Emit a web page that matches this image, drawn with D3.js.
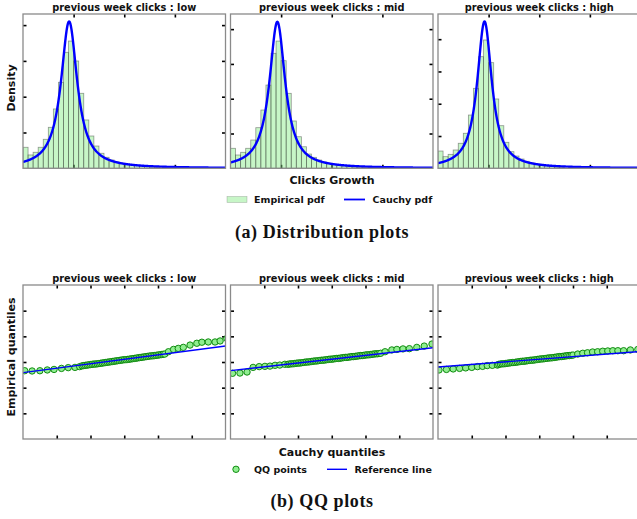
<!DOCTYPE html>
<html>
<head>
<meta charset="utf-8">
<script src="https://cdn.jsdelivr.net/npm/d3@7"></script>
<style>
body { margin: 0; background: #fff; }
text { font-family: "DejaVu Sans", sans-serif; font-weight: bold; fill: #111; }
.cap { font-family: "Liberation Serif", serif; letter-spacing: 0.6px; }
</style>
</head>
<body>
<div id="chart"></div>
<script>
// data
const groups = ["low", "mid", "high"];
const binStart = -1, binWidth = 0.1;
const histLow = [0.235, 0.149, 0.179, 0.235, 0.324, 0.458, 0.663, 0.961, 1.296, 1.422, 1.199, 0.838, 0.540, 0.361, 0.249, 0.168, 0.123, 0.093, 0.071, 0.056, 0.045, 0.037, 0.030, 0.022, 0.019, 0.015, 0.011, 0.008, 0.006];
const histMid = [0.230, 0.153, 0.184, 0.230, 0.325, 0.467, 0.670, 0.957, 1.322, 1.463, 1.237, 0.862, 0.544, 0.363, 0.248, 0.164, 0.126, 0.095, 0.072, 0.057, 0.045, 0.036, 0.029, 0.022, 0.017, 0.013, 0.009];
const histHigh = [0.214, 0.144, 0.173, 0.227, 0.310, 0.434, 0.660, 0.991, 1.383, 1.590, 1.309, 0.859, 0.528, 0.322, 0.206, 0.152, 0.115, 0.087, 0.066, 0.050, 0.039, 0.030, 0.022, 0.016, 0.011];
const cauchyLoc = [-0.089, -0.075, -0.081];
const cauchyScale = [0.194, 0.189, 0.175];
const densityMax = [1.724, 1.774, 1.912];
const densityTicks = [0.4, 0.8, 1.2, 1.6];
const growthDomain = [-1, 3];
const growthTicks = [0, 1, 2];

const qqLow = [[-2.95, -0.34], [-2.73, -0.35], [-2.50, -0.34], [-2.28, -0.31], [-2.08, -0.29], [-1.86, -0.25], [-1.66, -0.22], [-1.46, -0.21], [-1.32, -0.18],
  [-1.25, -0.15], [-1.20, -0.14], [-1.15, -0.13], [-1.10, -0.12], [-1.05, -0.11], [-1.00, -0.10], [-0.95, -0.09], [-0.90, -0.08], [-0.85, -0.08], [-0.80, -0.07],
  [-0.75, -0.06], [-0.70, -0.05], [-0.65, -0.04], [-0.60, -0.03], [-0.55, -0.02], [-0.50, -0.01], [-0.45, 0.00], [-0.40, 0.01], [-0.35, 0.02], [-0.30, 0.03],
  [-0.25, 0.04], [-0.20, 0.05], [-0.15, 0.06], [-0.10, 0.07], [-0.05, 0.08], [0.00, 0.09], [0.05, 0.09], [0.10, 0.10], [0.15, 0.11], [0.20, 0.12],
  [0.25, 0.13], [0.30, 0.14], [0.35, 0.15], [0.40, 0.16], [0.45, 0.17], [0.50, 0.18], [0.55, 0.19], [0.60, 0.20], [0.65, 0.21], [0.70, 0.22],
  [0.75, 0.23], [0.80, 0.24], [0.85, 0.24], [0.90, 0.25], [0.95, 0.26], [1.00, 0.27], [1.05, 0.28], [1.10, 0.29], [1.15, 0.30], [1.20, 0.31],
  [1.31, 0.40], [1.46, 0.49], [1.60, 0.53], [1.75, 0.57], [1.95, 0.66], [2.15, 0.73], [2.30, 0.77], [2.49, 0.78], [2.69, 0.78], [2.84, 0.82], [3.04, 0.92]];
const qqMid = [[-2.94, -0.44], [-2.72, -0.43], [-2.51, -0.39], [-2.33, -0.21], [-2.15, -0.18], [-1.98, -0.17], [-1.83, -0.16], [-1.68, -0.13], [-1.54, -0.12], [-1.39, -0.09],
  [-1.30, -0.09], [-1.25, -0.08], [-1.20, -0.07], [-1.15, -0.07], [-1.10, -0.06], [-1.05, -0.05], [-1.00, -0.04], [-0.95, -0.04], [-0.90, -0.03], [-0.85, -0.02],
  [-0.80, -0.01], [-0.75, 0.00], [-0.70, 0.00], [-0.65, 0.01], [-0.60, 0.02], [-0.55, 0.03], [-0.50, 0.04], [-0.45, 0.04], [-0.40, 0.05], [-0.35, 0.06],
  [-0.30, 0.07], [-0.25, 0.07], [-0.20, 0.08], [-0.15, 0.09], [-0.10, 0.10], [-0.05, 0.11], [0.00, 0.11], [0.05, 0.12], [0.10, 0.13], [0.15, 0.14],
  [0.20, 0.14], [0.25, 0.15], [0.30, 0.16], [0.35, 0.17], [0.40, 0.18], [0.45, 0.18], [0.50, 0.19], [0.55, 0.20], [0.60, 0.21], [0.65, 0.21],
  [0.70, 0.22], [0.75, 0.23], [0.80, 0.24], [0.85, 0.25], [0.90, 0.25], [0.95, 0.26], [1.00, 0.27], [1.05, 0.28], [1.10, 0.28], [1.15, 0.29],
  [1.20, 0.30], [1.25, 0.31], [1.30, 0.32], [1.35, 0.32], [1.40, 0.33], [1.45, 0.34],
  [1.58, 0.40], [1.78, 0.47], [1.93, 0.49], [2.11, 0.51], [2.30, 0.52], [2.52, 0.57], [2.74, 0.62], [2.97, 0.70]];
const qqHigh = [[-2.97, -0.31], [-2.75, -0.29], [-2.55, -0.27], [-2.36, -0.25], [-2.18, -0.23], [-2.00, -0.21], [-1.83, -0.18], [-1.68, -0.17], [-1.54, -0.14], [-1.39, -0.13], [-1.24, -0.12],
  [-1.20, -0.09], [-1.15, -0.08], [-1.10, -0.07], [-1.05, -0.07], [-1.00, -0.06], [-0.95, -0.05], [-0.90, -0.04], [-0.85, -0.03], [-0.80, -0.02], [-0.75, -0.02],
  [-0.70, -0.01], [-0.65, 0.00], [-0.60, 0.01], [-0.55, 0.02], [-0.50, 0.03], [-0.45, 0.03], [-0.40, 0.04], [-0.35, 0.05], [-0.30, 0.06], [-0.25, 0.07],
  [-0.20, 0.07], [-0.15, 0.08], [-0.10, 0.09], [-0.05, 0.10], [0.00, 0.11], [0.05, 0.12], [0.10, 0.12], [0.15, 0.13], [0.20, 0.14], [0.25, 0.15],
  [0.30, 0.16], [0.35, 0.16], [0.40, 0.17], [0.45, 0.18], [0.50, 0.19], [0.55, 0.20], [0.60, 0.21], [0.65, 0.21], [0.70, 0.22], [0.75, 0.23],
  [0.80, 0.24], [0.85, 0.25], [0.90, 0.25], [0.95, 0.26], [1.00, 0.27],
  [1.14, 0.31], [1.29, 0.34], [1.43, 0.36], [1.58, 0.39], [1.73, 0.40], [1.88, 0.42], [2.03, 0.43], [2.18, 0.44], [2.33, 0.44], [2.50, 0.44], [2.70, 0.47], [2.92, 0.49]];
const refSlope = [0.173, 0.149, 0.101];
const refIntercept = [0.103, 0.109, 0.108];
const quantileDomain = [-3, 3];
const quantileTicks = [-2, -1, 0, 1, 2];

const hists = [histLow, histMid, histHigh];
const qqs = [qqLow, qqMid, qqHigh];

const width = 637, height = 519;
const panelLeft = [23, 230.5, 438];
const panelW = 202.5;
const distTop = 14, distBottom = 168.3;
const qqTop = 285, qqBottom = 439;

const svg = d3.select("#chart")
    .append("svg")
    .attr("width", width)
    .attr("height", height);

const defs = svg.append("defs");

function frameAxes(g, x, y, xTicks, yTicks, top, bottom, left, right) {
    const tick = ax => ax.tickSize(-3.5).tickFormat("");
    g.append("g").attr("transform", `translate(${left},0)`).call(tick(d3.axisLeft(y).tickValues(yTicks)));
    g.append("g").attr("transform", `translate(${right},0)`).call(tick(d3.axisRight(y).tickValues(yTicks)));
    g.append("g").attr("transform", `translate(0,${top})`).call(tick(d3.axisTop(x).tickValues(xTicks)));
    g.append("g").attr("transform", `translate(0,${bottom})`).call(tick(d3.axisBottom(x).tickValues(xTicks)));
    g.selectAll(".domain").remove();
    g.selectAll(".tick line").attr("stroke", "#000").attr("stroke-width", 1.6);
}

groups.forEach((name, i) => {
    const left = panelLeft[i], right = left + panelW;

    // distribution panel
    const x = d3.scaleLinear().domain(growthDomain).range([left, right]);
    const y = d3.scaleLinear().domain([0, densityMax[i]]).range([distBottom, distTop]);
    const g = svg.append("g");
    defs.append("clipPath").attr("id", "cd" + i)
        .append("rect").attr("x", left).attr("y", distTop).attr("width", panelW).attr("height", distBottom - distTop);

    frameAxes(g, x, y, growthTicks, densityTicks, distTop, distBottom, left, right);

    g.append("g").attr("clip-path", `url(#cd${i})`)
        .selectAll("rect")
        .data(hists[i])
        .enter()
        .append("rect")
        .attr("x", (d, k) => x(binStart + k * binWidth))
        .attr("width", (d, k) => x(binStart + (k + 1) * binWidth) - x(binStart + k * binWidth))
        .attr("y", d => y(d))
        .attr("height", d => y(0) - y(d))
        .attr("fill", "#90ee90")
        .attr("fill-opacity", 0.5)
        .attr("stroke", "#222")
        .attr("stroke-opacity", 0.45)
        .attr("stroke-width", 0.8);

    const pdf = t => 1 / (Math.PI * cauchyScale[i] * (1 + Math.pow((t - cauchyLoc[i]) / cauchyScale[i], 2)));
    const grid = d3.range(growthDomain[0], growthDomain[1] + 0.001, 0.005);
    g.append("path")
        .attr("clip-path", `url(#cd${i})`)
        .datum(grid)
        .attr("d", d3.line().x(t => x(t)).y(t => y(pdf(t))))
        .attr("fill", "none")
        .attr("stroke", "#0000ff")
        .attr("stroke-width", 2.4);

    g.append("rect")
        .attr("x", left).attr("y", distTop).attr("width", panelW).attr("height", distBottom - distTop)
        .attr("fill", "none").attr("stroke", "#8a8a8a").attr("stroke-width", 1.3);

    g.append("text")
        .attr("x", left + panelW / 2).attr("y", 10.5)
        .attr("text-anchor", "middle").attr("font-size", 9.8)
        .text("previous week clicks : " + name);

    // qq panel
    const qx = d3.scaleLinear().domain(quantileDomain).range([left, right]);
    const qy = d3.scaleLinear().domain(quantileDomain).range([qqBottom, qqTop]);
    const q = svg.append("g");
    defs.append("clipPath").attr("id", "cq" + i)
        .append("rect").attr("x", left).attr("y", qqTop).attr("width", panelW).attr("height", qqBottom - qqTop);

    frameAxes(q, qx, qy, quantileTicks, quantileTicks, qqTop, qqBottom, left, right);

    q.append("g").attr("clip-path", `url(#cq${i})`)
        .selectAll("circle")
        .data(qqs[i])
        .enter()
        .append("circle")
        .attr("cx", d => qx(d[0]))
        .attr("cy", d => qy(d[1]))
        .attr("r", 3.2)
        .attr("fill", "#90ee90")
        .attr("stroke", "#008000")
        .attr("stroke-width", 0.9);

    q.append("line")
        .attr("clip-path", `url(#cq${i})`)
        .attr("x1", qx(quantileDomain[0])).attr("y1", qy(refIntercept[i] + refSlope[i] * quantileDomain[0]))
        .attr("x2", qx(quantileDomain[1])).attr("y2", qy(refIntercept[i] + refSlope[i] * quantileDomain[1]))
        .attr("stroke", "#0000ff").attr("stroke-width", 1.4);

    q.append("rect")
        .attr("x", left).attr("y", qqTop).attr("width", panelW).attr("height", qqBottom - qqTop)
        .attr("fill", "none").attr("stroke", "#8a8a8a").attr("stroke-width", 1.3);

    q.append("text")
        .attr("x", left + panelW / 2).attr("y", 281.5)
        .attr("text-anchor", "middle").attr("font-size", 9.8)
        .text("previous week clicks : " + name);
});

// axis labels
svg.append("text").attr("transform", "translate(15,88) rotate(-90)")
    .attr("text-anchor", "middle").attr("font-size", 11).text("Density");
svg.append("text").attr("transform", "translate(15,357) rotate(-90)")
    .attr("text-anchor", "middle").attr("font-size", 11).text("Empirical quantiles");
svg.append("text").attr("x", 332).attr("y", 183.5)
    .attr("text-anchor", "middle").attr("font-size", 11).text("Clicks Growth");
svg.append("text").attr("x", 332).attr("y", 455.5)
    .attr("text-anchor", "middle").attr("font-size", 11).text("Cauchy quantiles");

// legends
svg.append("rect").attr("x", 227).attr("y", 196.5).attr("width", 20).attr("height", 6)
    .attr("fill", "#90ee90").attr("fill-opacity", 0.5).attr("stroke", "#222").attr("stroke-opacity", 0.3).attr("stroke-width", 0.6);
svg.append("text").attr("x", 254).attr("y", 203).attr("font-size", 9.5).text("Empirical pdf");
svg.append("line").attr("x1", 344).attr("x2", 365).attr("y1", 199.5).attr("y2", 199.5)
    .attr("stroke", "#0000ff").attr("stroke-width", 1.8);
svg.append("text").attr("x", 372.5).attr("y", 203).attr("font-size", 9.5).text("Cauchy pdf");

svg.append("circle").attr("cx", 236).attr("cy", 469.3).attr("r", 3.2)
    .attr("fill", "#90ee90").attr("stroke", "#008000").attr("stroke-width", 0.9);
svg.append("text").attr("x", 254).attr("y", 473).attr("font-size", 9.5).text("QQ points");
svg.append("line").attr("x1", 327).attr("x2", 347).attr("y1", 469.3).attr("y2", 469.3)
    .attr("stroke", "#0000ff").attr("stroke-width", 1.4);
svg.append("text").attr("x", 354.5).attr("y", 473).attr("font-size", 9.5).text("Reference line");

// captions
svg.append("text").attr("class", "cap").attr("x", 322).attr("y", 237.5)
    .attr("text-anchor", "middle").attr("font-size", 18).text("(a) Distribution plots");
svg.append("text").attr("class", "cap").attr("x", 322).attr("y", 507)
    .attr("text-anchor", "middle").attr("font-size", 18).text("(b) QQ plots");
</script>
</body>
</html>
